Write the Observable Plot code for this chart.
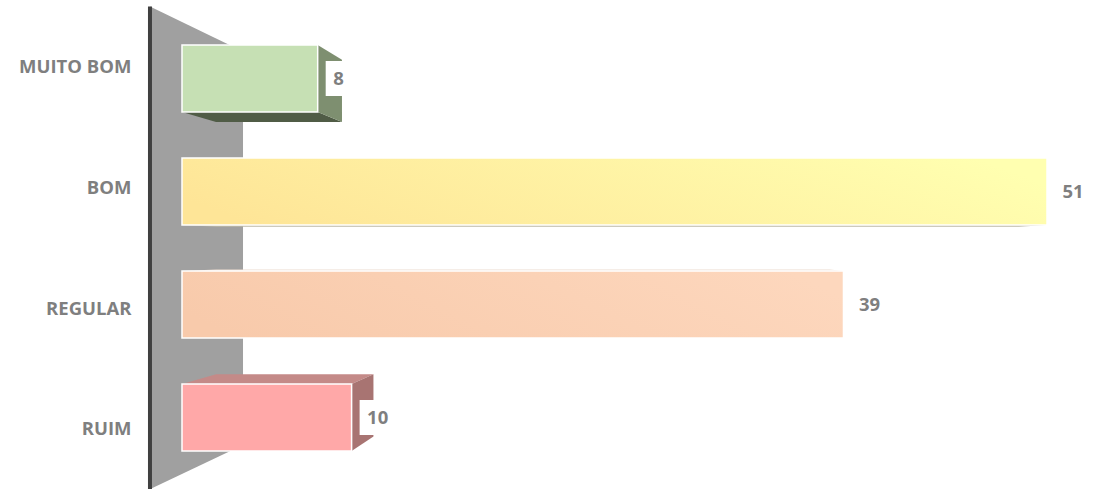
<!DOCTYPE html>
<html><head><meta charset="utf-8">
<script src="https://cdn.jsdelivr.net/npm/d3@7"></script>
<script src="https://cdn.jsdelivr.net/npm/@observablehq/plot@0.6"></script>
<style>body{margin:0;background:#fff}</style>
</head><body><div id="chart"></div>
<script>
// ---- data ----
const categories = ["MUITO BOM", "BOM", "REGULAR", "RUIM"];
const values = [8, 51, 39, 10];
const xMax = 51;

// ---- styles ----
const frontColors = [["#c6e0b4", "#c6e0b4"], ["#fee597", "#ffffb0"], ["#f8caab", "#fdd7bd"], ["#ffa8a8", "#ffa8a8"]];
const sideColors = ["#7e8f70", "#c0bcae", "#f0d8c8", "#a87472"];
const capColors = ["#505c46", "#bcb8a6", "#ecdcd0", "#c48a88"];

const data = categories.map((c, i) => ({category: c, value: values[i], i}));

// perspective (3D look)
const VP = [655, 250];
const ZF = -0.0677, ZB = 0.129, ZBAR = 0.072;
const proj = (x, y, z) => [x + z * (VP[0] - x), y + z * (VP[1] - y)];
const pts = (arr) => arr.map(p => p.join(",")).join(" ");
const bandwidthOf = (scales) =>
  (scales.scales && scales.scales.y && scales.scales.y.bandwidth) ||
  (scales.y.bandwidth ? scales.y.bandwidth() : 67);

function renderWall(index, scales, vals, dims) {
  const x0 = scales.x(0);
  const yT = dims.marginTop, yB = dims.height - dims.marginBottom;
  const p = [proj(x0, yT, ZF), proj(x0, yT, ZB), proj(x0, yB, ZB), proj(x0, yB, ZF)];
  const g = d3.create("svg:g");
  g.append("polygon").attr("points", pts(p)).attr("fill", "#a0a0a0");
  g.append("line").attr("x1", p[0][0]).attr("y1", p[0][1]).attr("x2", p[3][0]).attr("y2", p[3][1])
    .attr("stroke", "#404040").attr("stroke-width", 4);
  return g.node();
}

function renderBars(index, scales, vals, dims) {
  const bw = bandwidthOf(scales);
  const g = d3.create("svg:g");
  const defs = g.append("defs");
  for (const i of index) {
    const d = data[i];
    const x0 = scales.x(0), x1 = scales.x(d.value);
    const y0 = scales.y(d.category), y1 = y0 + bw;
    const id = "grad" + i;
    const gr = defs.append("linearGradient").attr("id", id)
      .attr("x1", 0).attr("y1", 0.6).attr("x2", 1).attr("y2", 0.4);
    gr.append("stop").attr("offset", 0).attr("stop-color", frontColors[i][0]);
    gr.append("stop").attr("offset", 1).attr("stop-color", frontColors[i][1]);
    if (y1 < VP[1]) {
      g.append("polygon").attr("fill", capColors[i])
        .attr("points", pts([proj(x0, y1, 0), proj(x1, y1, 0), proj(x1, y1, ZBAR), proj(x0, y1, ZBAR)]));
    }
    if (y0 > VP[1]) {
      g.append("polygon").attr("fill", capColors[i])
        .attr("points", pts([proj(x0, y0, 0), proj(x1, y0, 0), proj(x1, y0, ZBAR), proj(x0, y0, ZBAR)]));
    }
    if (x1 < VP[0]) {
      g.append("polygon").attr("fill", sideColors[i])
        .attr("points", pts([proj(x1, y0, 0), proj(x1, y0, ZBAR), proj(x1, y1, ZBAR), proj(x1, y1, 0)]));
    }
    g.append("rect").attr("x", x0).attr("y", y0).attr("width", x1 - x0).attr("height", bw)
      .attr("fill", `url(#${id})`).attr("stroke", "white").attr("stroke-width", 1.5);
    // white label background
    g.append("rect").attr("x", x1 + 8).attr("y", y0 + bw / 2 - 17.5).attr("width", 38).attr("height", 35)
      .attr("fill", "white");
  }
  return g.node();
}

function renderLabels(index, scales, vals, dims, ctx, next) {
  const bw = bandwidthOf(scales);
  const X = Array.from(vals.x, x => proj(x, 0, ZF)[0]);
  const Y = Array.from(vals.y, y => proj(0, y + bw / 2, ZF)[1] - bw / 2);
  return next(index, scales, {...vals, x: X, y: Y}, dims, ctx);
}

const chart = Plot.plot({
  width: 1097,
  height: 489,
  marginLeft: 182,
  marginRight: 50,
  marginTop: 22,
  marginBottom: 15,
  style: {fontFamily: "'Open Sans', sans-serif", background: "white"},
  x: {domain: [0, xMax], axis: null},
  y: {domain: categories, paddingInner: 0.407, paddingOuter: 0.2035, axis: null},
  marks: [
    Plot.ruleX([0], {render: renderWall}),
    Plot.barX(data, {x: "value", y: "category", render: renderBars}),
    Plot.text(data, {x: "value", y: "category", text: d => String(d.value), dx: 15,
      textAnchor: "start", fill: "#7f7f7f", fontWeight: "bold", fontSize: 18.5}),
    Plot.text(data, {x: () => 0, y: "category", text: "category", dx: -19, textAnchor: "end",
      fill: "#7f7f7f", fontWeight: "bold", fontSize: 18.5, render: renderLabels})
  ]
});
document.getElementById("chart").appendChild(chart);
</script>
</body></html>
